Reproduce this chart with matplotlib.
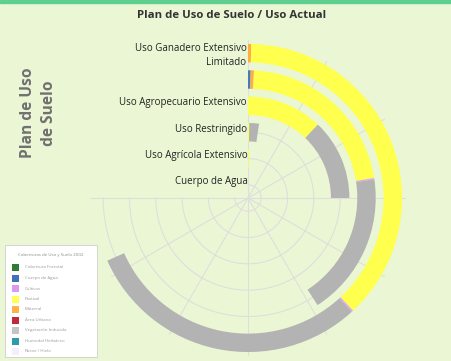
import numpy as np
import matplotlib
matplotlib.use('Agg')
import matplotlib.pyplot as plt
from matplotlib.patches import Rectangle

# categorias del plan (de adentro hacia afuera)
categorias = ['Cuerpo de Agua', 'Uso Agrícola Extensivo', 'Uso Restringido',
              'Uso Agropecuario Extensivo', '', 'Uso Ganadero Extensivo\nLimitado']

# uso actual por categoria (escala del eje angular: 360 = vuelta completa)
agua = [0, 0, 0, 0, 1.2, 0]
matorral = [0, 0, 0, 0, 1.5, 1.2]
pastizal = [0, 1.2, 1.0, 43.6, 78.3, 135.8]
cultivos = [0, 0, 0, 0, 0.6, 0.6]
veg_inducida = [0, 0, 7.5, 46.4, 65.4, 108.4]
valor_max = 360

# orden de apilado
series = [('Cuerpo de Agua', agua, '#4a78b8'),
          ('Matorral', matorral, '#ffad42'),
          ('Pastizal', pastizal, '#ffff4d'),
          ('Cultivos', cultivos, '#e3a6ef'),
          ('Vegetación Inducida', veg_inducida, '#b3b3b3')]

# leyenda
leyenda_titulo = 'Coberturas de Uso y Suelo 2002'
leyenda_nombres = ['Cobertura Forestal', 'Cuerpo de Agua', 'Cultivos', 'Pastizal',
                   'Matorral', 'Área Urbana', 'Vegetación Inducida',
                   'Humedal Herbáceo', 'Nieve / Hielo']
leyenda_colores = ['#2f7a34', '#3f73b8', '#dd99ee', '#ffff55', '#ffb347',
                   '#c0283c', '#c4c4c4', '#2e9bab', '#f6eefa']

plt.rcParams['font.family'] = ['Open Sans', 'DejaVu Sans']

fondo = '#ebf7d4'
W, H = 451, 361
fig = plt.figure(figsize=(W/100, H/100), dpi=100, facecolor=fondo)
fig.patches.append(Rectangle((0, 1 - 3/H), 1, 3/H, transform=fig.transFigure,
                             color='#5ecf8e', zorder=5))

ax = fig.add_axes([90/W, 5/H, 316/W, 316/H], projection='polar')
ax.set_facecolor('none')
ax.set_theta_zero_location('N')
ax.set_theta_direction(-1)
ax.set_ylim(0, 6)
ax.set_xlim(0, 2*np.pi)
ax.grid(False)
ax.set_xticks([])
ax.set_yticks([])
ax.spines['polar'].set_visible(False)

r = np.arange(len(categorias)) + 0.5

# rejilla solo en tres cuadrantes (el cuarto lo ocupan las etiquetas)
gris_rejilla = '#dedede'
arco = np.linspace(0, 1.5*np.pi, 300)
for ri in r:
    ax.plot(arco, np.full_like(arco, ri), color=gris_rejilla, lw=0.8, zorder=1)
for ang in np.deg2rad(np.arange(0, 271, 30)):
    ax.plot([ang, ang], [0, 6], color=gris_rejilla, lw=0.8, zorder=1)

acum = np.zeros(len(categorias))
for nombre, vals, color in series:
    vals = np.array(vals, dtype=float)
    ax.bar(acum/valor_max*2*np.pi, 0.7, width=vals/valor_max*2*np.pi,
           bottom=r - 0.35, align='edge', color=color, linewidth=0, zorder=3)
    acum += vals

# etiquetas de categorias a la izquierda del eje
for ri, txt in zip(r, categorias):
    dy = -0.08 if '\n' in txt else 0.11
    ax.text(np.deg2rad(-0.6), ri + dy, txt, ha='right', va='center', fontsize=7,
            color='#222222', linespacing=1.38, zorder=4)

fig.text(0.513, 0.958, 'Plan de Uso de Suelo / Uso Actual', ha='center', va='center',
         fontsize=8.2, fontweight='bold', color='#333333')
fig.text(38.5/W, 1 - 113/H, 'Plan de Uso\nde Suelo', ha='center', va='center',
         rotation=90, fontsize=11.2, fontweight='bold', color='#707070',
         linespacing=1.45)

# leyenda dibujada en un eje en pixeles
lax = fig.add_axes([0, 0, 1, 1], zorder=6)
lax.set_xlim(0, W)
lax.set_ylim(H, 0)
lax.axis('off')
lax.add_patch(Rectangle((5, 245), 92, 112, facecolor='white', edgecolor='#cfcfcf', lw=0.6))
lax.text(51, 255, leyenda_titulo, ha='center', va='center', fontsize=3.2, color='#8a8a8a')
for i, (nom, col) in enumerate(zip(leyenda_nombres, leyenda_colores)):
    y = 267.5 + i*10.5
    lax.add_patch(Rectangle((12, y - 3.5), 7, 7, facecolor=col, edgecolor='none'))
    lax.text(25, y, nom, ha='left', va='center', fontsize=3.2, color='#9a9a9a')

fig.savefig('out.png', dpi=100, facecolor=fondo)
